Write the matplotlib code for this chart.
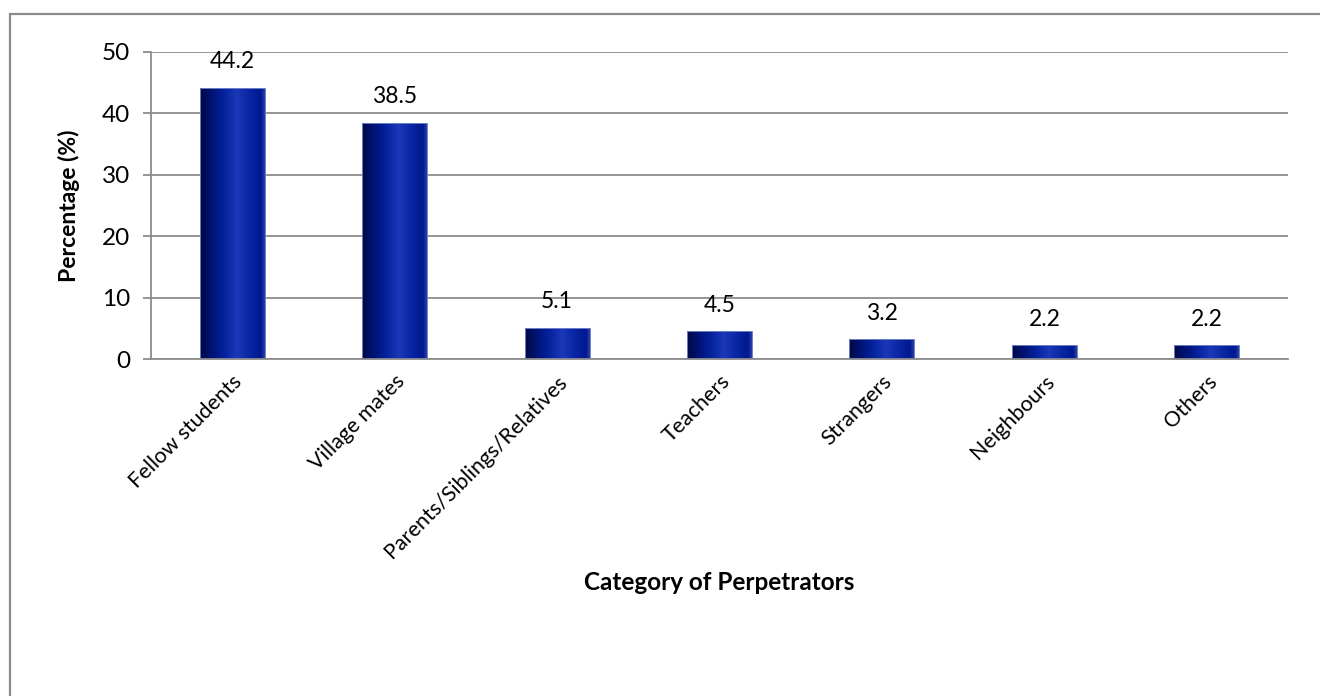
import matplotlib
matplotlib.use("Agg")
import matplotlib.pyplot as plt
import numpy as np
from matplotlib.colors import LinearSegmentedColormap
from matplotlib.patches import Rectangle

categories = ["Fellow students", "Village mates", "Parents/Siblings/Relatives",
              "Teachers", "Strangers", "Neighbours", "Others"]
percentages = [44.2, 38.5, 5.1, 4.5, 3.2, 2.2, 2.2]
y_ticks = [0, 10, 20, 30, 40, 50]

plt.rcParams['font.family'] = ['Lato', 'DejaVu Sans']
FS = 17.5

W, H = 1320, 696
fig = plt.figure(figsize=(W / 100, H / 100), dpi=100)
fig.patch.set_facecolor('white')

# chart-area frame (only top and left edges fall inside the canvas)
fig.patches.append(Rectangle((10 / W, -0.1), 1.2, 1 - 14 / H + 0.1,
                             transform=fig.transFigure, fill=False,
                             edgecolor='#8c8c8c', linewidth=1.6))

ax = fig.add_axes([151 / W, 1 - 359 / H, (1288 - 151) / W, (359 - 52) / H])

# shaded cylinder look for each bar
bar_cmap = LinearSegmentedColormap.from_list("barshade", [
    (0.0, '#000a40'), (0.12, '#000f66'), (0.35, '#03209a'),
    (0.57, '#1a38b8'), (0.75, '#0a27a4'), (0.94, '#001890'), (1.0, '#2a40a8')])
grad = np.linspace(0, 1, 256).reshape(1, -1)

x = np.arange(len(categories))
bars = ax.bar(x, percentages, width=0.4, color='none', edgecolor='#6f80c8',
              linewidth=0.7, zorder=3)
for rect in bars:
    x0, y0 = rect.get_x(), rect.get_y()
    im = ax.imshow(grad, cmap=bar_cmap, aspect='auto', zorder=2,
                   extent=[x0, x0 + rect.get_width(), y0, y0 + rect.get_height()])
    im.set_clip_path(rect)

for xi, v in zip(x, percentages):
    ax.annotate(f"{v}", (xi, v), xytext=(0, 11), textcoords='offset points',
                ha='center', va='bottom', fontsize=16.5, color='black')

ax.set_xlim(-0.5, len(categories) - 0.5)
ax.set_ylim(0, 50)
ax.set_yticks(y_ticks)
ax.yaxis.grid(True, color='#8c8c8c', linewidth=1.3)
ax.set_axisbelow(True)
for s in ['top', 'right']:
    ax.spines[s].set_visible(False)
for s in ['left', 'bottom']:
    ax.spines[s].set_color('#8c8c8c')
    ax.spines[s].set_linewidth(1.3)
ax.tick_params(axis='y', length=6, width=1.3, color='#8c8c8c', labelsize=FS, pad=9)
ax.tick_params(axis='x', length=0, labelsize=15.5, pad=9)
ax.set_xticks(x)
ax.set_xticklabels(categories, rotation=45, ha='right', rotation_mode='anchor')

ax.set_ylabel("Percentage (%)", fontsize=16.5, fontweight='bold', labelpad=16)
fig.text((151 + 1288) / 2 / W, 1 - 582 / H, "Category of Perpetrators",
         ha='center', va='center', fontsize=FS, fontweight='bold')

fig.savefig("out.png", dpi=100)
